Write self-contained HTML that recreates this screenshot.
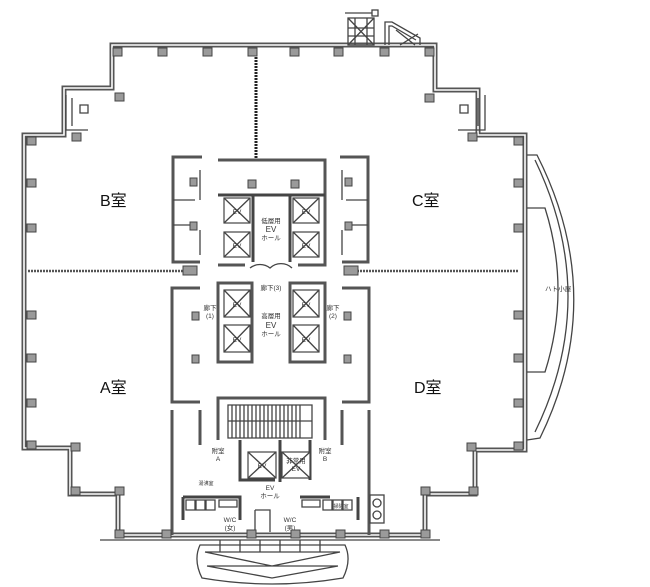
<!DOCTYPE html>
<html><head><meta charset="utf-8"><style>
html,body{margin:0;padding:0;background:#fff;width:650px;height:587px;overflow:hidden}
svg{display:block}
.w{fill:none;stroke:#555;stroke-width:5;stroke-linejoin:miter}
.wi{fill:none;stroke:#fff;stroke-width:1.6}
.t{fill:none;stroke:#444;stroke-width:1.3}
.th{fill:none;stroke:#444;stroke-width:3}
.p{fill:#9a9a9a;stroke:#444;stroke-width:1}
.l{font-family:"Liberation Sans","Noto Sans CJK JP",sans-serif;font-size:16px;fill:#111}
.s{font-family:"Liberation Sans","Noto Sans CJK JP",sans-serif;font-size:6.5px;fill:#333;text-anchor:middle}
.ev{fill:#fff;stroke:#444;stroke-width:1.2}
</style></head><body>
<svg width="650" height="587" viewBox="0 0 650 587" xmlns="http://www.w3.org/2000/svg">
<path class="w" d="M112,45 L435,45 L435,90 L478,90 L478,135 L525,135 L525,450 L475,450 L475,494 L425,494 L425,535 L118,535 L118,494 L70,494 L70,448 L24,448 L24,135 L64,135 L64,88 L112,88 Z"/>
<path class="wi" d="M112,45 L435,45 L435,90 L478,90 L478,135 L525,135 L525,450 L475,450 L475,494 L425,494 L425,535 L118,535 L118,494 L70,494 L70,448 L24,448 L24,135 L64,135 L64,88 L112,88 Z"/>
<line x1="100" y1="540" x2="440" y2="540" class="t"/>
<rect x="348" y="18" width="26" height="27" class="t"/>
<path class="t" d="M348,18 L374,45 M374,18 L348,45 M355,18 V45 M367,18 V45 M348,28 H374 M348,36 H374"/>
<rect x="372" y="10" width="6" height="6" class="t"/><line x1="345" y1="13" x2="372" y2="13" class="t"/>
<path class="t" d="M385,45 V22 H392 L420,38 V45 M389,45 V26 H392 L416,40 M396,30 L415,45 M400,45 L418,34"/>
<line x1="256" y1="48" x2="256" y2="160" stroke="#222" stroke-width="3" stroke-dasharray="2,1"/>
<line x1="28" y1="271" x2="185" y2="271" stroke="#555" stroke-width="2.5" stroke-dasharray="2,1"/>
<line x1="357" y1="271" x2="518" y2="271" stroke="#555" stroke-width="2.5" stroke-dasharray="2,1"/>
<rect x="183" y="266" width="14" height="9" class="p"/><rect x="344" y="266" width="14" height="9" class="p"/>
<path class="t" d="M66,95 V130 H88 M72,98 V126 M80,105 h8 v8 h-8z"/>
<path class="t" d="M485,95 V130 H458 M478,98 V126 M460,105 h8 v8 h-8z"/>
<path class="t" d="M527,155 L537,155 Q609,297 540,438 L527,440"/>
<path class="t" d="M535,160 Q601,297 535,432"/>
<path class="t" d="M527,208 L545,208 Q571,290 545,372 L527,372"/>
<text x="545" y="291" class="s" style="text-anchor:start">ハト小屋</text>
<path class="w" style="stroke-width:3" d="M202,157 H173 V262 H200"/>
<path class="t" d="M173,200 H195 M173,225 H195 M200,170 V200 M200,230 V255"/>
<path class="w" style="stroke-width:3" d="M340,157 H368 V262 H342"/>
<path class="t" d="M346,200 H368 M346,225 H368 M342,170 V200 M342,230 V255"/>
<path class="w" style="stroke-width:3" d="M200,288 H172 V402 H200"/>
<path class="w" style="stroke-width:3" d="M342,288 H369 V402 H342"/>
<path class="w" style="stroke-width:3" d="M218,160 H325 V265 H298 M245,265 H218 Z"/>
<line x1="218" y1="195" x2="325" y2="195" class="th"/>
<path class="th" d="M253,195 V262 M290,195 V262"/>
<rect x="248" y="180" width="8" height="8" class="p"/><rect x="291" y="180" width="8" height="8" class="p"/>
<g>
<rect x="224" y="198" width="26" height="25" class="ev"/><path class="t" d="M224,198 L250,223 M250,198 L224,223"/>
<rect x="224" y="232" width="26" height="25" class="ev"/><path class="t" d="M224,232 L250,257 M250,232 L224,257"/>
<rect x="293" y="198" width="26" height="25" class="ev"/><path class="t" d="M293,198 L319,223 M319,198 L293,223"/>
<rect x="293" y="232" width="26" height="25" class="ev"/><path class="t" d="M293,232 L319,257 M319,232 L293,257"/>
<rect x="224" y="290" width="26" height="27" class="ev"/><path class="t" d="M224,290 L250,317 M250,290 L224,317"/>
<rect x="224" y="325" width="26" height="27" class="ev"/><path class="t" d="M224,325 L250,352 M250,325 L224,352"/>
<rect x="293" y="290" width="26" height="27" class="ev"/><path class="t" d="M293,290 L319,317 M319,290 L293,317"/>
<rect x="293" y="325" width="26" height="27" class="ev"/><path class="t" d="M293,325 L319,352 M319,325 L293,352"/>
</g>
<text x="237" y="214" class="s">EV</text><text x="237" y="248" class="s">EV</text>
<text x="306" y="214" class="s">EV</text><text x="306" y="248" class="s">EV</text>
<text x="237" y="307" class="s">EV</text><text x="237" y="342" class="s">EV</text>
<text x="306" y="307" class="s">EV</text><text x="306" y="342" class="s">EV</text>
<text x="271" y="223" class="s">低層用</text><text x="271" y="232" class="s" style="font-size:8px">EV</text><text x="271" y="240" class="s">ホール</text>
<text x="271" y="290" class="s">廊下(3)</text>
<text x="271" y="318" class="s">高層用</text><text x="271" y="328" class="s" style="font-size:8px">EV</text><text x="271" y="336" class="s">ホール</text>
<text x="210" y="310" class="s">廊下</text><text x="210" y="318" class="s">(1)</text>
<text x="333" y="310" class="s">廊下</text><text x="333" y="318" class="s">(2)</text>
<path class="t" d="M250,268 A16,16 0 0 1 270,268 A16,16 0 0 1 292,268"/>
<path class="w" style="stroke-width:3" d="M218,283 H252 V362 H218 Z M290,283 H325 V362 H290 Z"/>
<path class="w" style="stroke-width:3" d="M218,440 V398 H325 V440"/>
<path class="t" d="M228,405 H312 V438 H228 Z M228,421 H312"/>
<path class="t" d="M232,405 V438 M236,405 V438 M240,405 V438 M244,405 V438 M248,405 V438 M252,405 V438 M256,405 V438 M260,405 V438 M264,405 V438 M268,405 V438 M272,405 V438 M276,405 V438 M280,405 V438 M284,405 V438 M288,405 V438 M292,405 V438 M296,405 V438 M300,405 V438"/>
<path class="th" d="M240,440 V480 H275 M280,440 V482 M310,440 V480"/>
<rect x="248" y="452" width="28" height="26" class="ev"/><path class="t" d="M248,452 L276,478 M276,452 L248,478"/>
<rect x="282" y="452" width="28" height="26" class="ev"/><path class="t" d="M282,452 L310,478 M310,452 L282,478"/>
<text x="262" y="468" class="s">EV</text>
<text x="296" y="463" class="s">非常用</text><text x="296" y="471" class="s">EV</text>
<text x="218" y="453" class="s">附室</text><text x="218" y="461" class="s">A</text>
<text x="325" y="453" class="s">附室</text><text x="325" y="461" class="s">B</text>
<text x="270" y="490" class="s">EV</text><text x="270" y="498" class="s">ホール</text>
<text x="206" y="485" class="s" style="font-size:5px">湯沸室</text>
<text x="341" y="508" class="s" style="font-size:5px">掃除室</text>
<path class="w" style="stroke-width:3" d="M172,410 V535 M369,410 V535 M200,410 V445 M342,410 V445"/>
<path class="th" d="M183,497 H240 V520 M183,497 V520 M300,497 H330 M358,497 V520"/>
<path class="t" d="M186,500 h9 v10 h-9z M196,500 h9 v10 h-9z M206,500 h9 v10 h-9z M219,500 h18 v7 h-18z M302,500 h18 v7 h-18z M323,500 h9 v10 h-9z M333,500 h9 v10 h-9z M343,500 h9 v10 h-9z"/>
<path class="t" d="M255,510 H270 V532 M255,510 V532"/>
<text x="230" y="522" class="s">W/C</text><text x="230" y="530" class="s">(女)</text>
<text x="290" y="522" class="s">W/C</text><text x="290" y="530" class="s">(男)</text>
<rect x="370" y="495" width="14" height="28" class="t"/><circle cx="377" cy="503" r="4" class="t"/><circle cx="377" cy="515" r="4" class="t"/>
<g>
<rect x="113" y="48" width="9" height="8" class="p"/><rect x="158" y="48" width="9" height="8" class="p"/><rect x="203" y="48" width="9" height="8" class="p"/><rect x="248" y="48" width="9" height="8" class="p"/><rect x="290" y="48" width="9" height="8" class="p"/><rect x="334" y="48" width="9" height="8" class="p"/><rect x="380" y="48" width="9" height="8" class="p"/><rect x="425" y="48" width="9" height="8" class="p"/>
<rect x="115" y="93" width="9" height="8" class="p"/><rect x="425" y="94" width="9" height="8" class="p"/>
<rect x="72" y="133" width="9" height="8" class="p"/><rect x="468" y="133" width="9" height="8" class="p"/>
<rect x="27" y="137" width="9" height="8" class="p"/><rect x="27" y="179" width="9" height="8" class="p"/><rect x="27" y="224" width="9" height="8" class="p"/><rect x="27" y="311" width="9" height="8" class="p"/><rect x="27" y="354" width="9" height="8" class="p"/><rect x="27" y="399" width="9" height="8" class="p"/><rect x="27" y="441" width="9" height="8" class="p"/>
<rect x="514" y="137" width="9" height="8" class="p"/><rect x="514" y="179" width="9" height="8" class="p"/><rect x="514" y="224" width="9" height="8" class="p"/><rect x="514" y="311" width="9" height="8" class="p"/><rect x="514" y="354" width="9" height="8" class="p"/><rect x="514" y="399" width="9" height="8" class="p"/><rect x="514" y="442" width="9" height="8" class="p"/>
<rect x="71" y="443" width="9" height="8" class="p"/><rect x="467" y="443" width="9" height="8" class="p"/>
<rect x="71" y="487" width="9" height="8" class="p"/><rect x="115" y="487" width="9" height="8" class="p"/><rect x="421" y="487" width="9" height="8" class="p"/><rect x="469" y="487" width="9" height="8" class="p"/>
<rect x="115" y="530" width="9" height="8" class="p"/><rect x="162" y="530" width="9" height="8" class="p"/><rect x="247" y="530" width="9" height="8" class="p"/><rect x="291" y="530" width="9" height="8" class="p"/><rect x="336" y="530" width="9" height="8" class="p"/><rect x="380" y="530" width="9" height="8" class="p"/><rect x="421" y="530" width="9" height="8" class="p"/>
<rect x="190" y="178" width="7" height="8" class="p"/><rect x="190" y="222" width="7" height="8" class="p"/><rect x="345" y="178" width="7" height="8" class="p"/><rect x="345" y="222" width="7" height="8" class="p"/>
<rect x="192" y="312" width="7" height="8" class="p"/><rect x="192" y="355" width="7" height="8" class="p"/><rect x="344" y="312" width="7" height="8" class="p"/><rect x="344" y="355" width="7" height="8" class="p"/>
</g>
<path class="t" d="M200,545 L345,545 Q352,560 343,578 Q272,590 202,578 Q193,560 200,545 Z"/>
<path class="t" d="M205,552 L340,552 M207,566 L338,566 M205,552 L272,566 L340,552 M207,566 L272,578 L338,566"/>
<path class="t" d="M220,540 V552 M240,540 V552 M260,540 V552 M280,540 V552 M300,540 V552 M320,540 V552"/>
<text x="100" y="206" class="l">B室</text>
<text x="412" y="206" class="l">C室</text>
<text x="100" y="393" class="l">A室</text>
<text x="414" y="393" class="l">D室</text>
</svg>
</body></html>
